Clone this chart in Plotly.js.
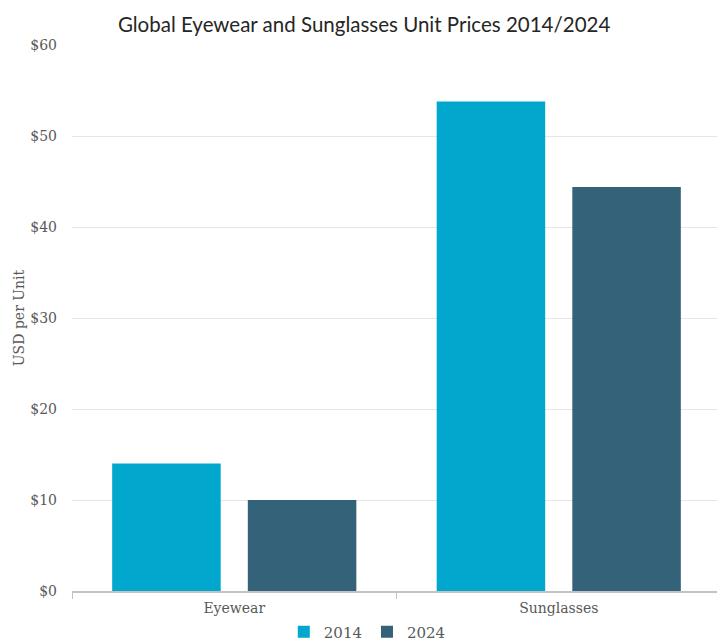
<!DOCTYPE html>
<html>
<head>
<meta charset="utf-8">
<script src="https://cdn.plot.ly/plotly-3.0.1.min.js"></script>
<style>html,body{margin:0;padding:0;overflow:hidden;background:#fff;}#chart{width:721px;height:642px;}</style>
</head>
<body>
<div id="chart"></div>
<script>
const categories = ["Eyewear", "Sunglasses"];
const values2014 = [14.0, 53.8];
const values2024 = [10.0, 44.4];
const yTickVals = [0, 10, 20, 30, 40, 50, 60];
const yTickText = ["$0", "$10", "$20", "$30", "$40", "$50", "$60"];

const serif = "DejaVu Serif, Liberation Serif, serif";
const traces = [
  {type: "bar", name: "2014", x: categories, y: values2014,
   marker: {color: "#02A7CD"}, hoverinfo: "y"},
  {type: "bar", name: "2024", x: categories, y: values2024,
   marker: {color: "#346379"}, hoverinfo: "y"}
];
const layout = {
  width: 721, height: 642,
  margin: {l: 72, r: 0, t: 45, b: 51},
  paper_bgcolor: "#fff", plot_bgcolor: "#fff",
  title: {text: "Global Eyewear and Sunglasses Unit Prices 2014/2024",
          font: {family: "Lato, Open Sans, sans-serif", size: 20.5, color: "#262626"},
          x: 0.505, xanchor: "center", y: 0.962, yanchor: "middle"},
  barmode: "group", bargap: 0.164, bargroupgap: 0.2,
  xaxis: {type: "category", showgrid: false, showline: true, linecolor: "#c4c4c4", linewidth: 1.5,
          ticks: "outside", tickson: "boundaries", ticklen: 6, tickcolor: "#c4c4c4",
          ticklabelstandoff: 4,
          tickfont: {family: serif, size: 14, color: "#595959"}, zeroline: false},
  yaxis: {range: [0, 60], tickvals: yTickVals, ticktext: yTickText,
          showgrid: true, gridcolor: "#e6e6e6", gridwidth: 1, zeroline: false, showline: false,
          ticks: "", ticklabelstandoff: 14,
          tickfont: {family: serif, size: 14, color: "#595959"},
          title: {text: "USD per Unit", font: {family: serif, size: 14, color: "#595959"}, standoff: 2}},
  showlegend: true,
  legend: {orientation: "h", x: 0.455, xanchor: "center", yref: "container", y: 0.0156, yanchor: "middle",
           font: {family: serif, size: 15, color: "#595959"}, itemwidth: 30, traceorder: "normal"}
};
Plotly.newPlot("chart", traces, layout, {displayModeBar: false, staticPlot: true});
</script>
</body>
</html>
